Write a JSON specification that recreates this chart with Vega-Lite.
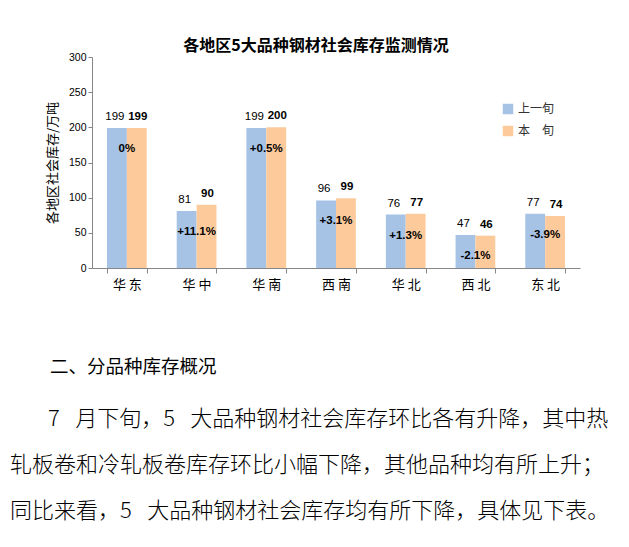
{
  "$schema": "https://vega.github.io/schema/vega-lite/v6.json",
  "padding": {"left": 10, "top": 38, "right": 5, "bottom": 0},
  "background": "white",
  "config": {"view": {"stroke": null}, "font": "Noto Sans CJK SC"},
  "bounds": "flush",
  "spacing": 151,
  "vconcat": [
    {
      "title": {"text": "各地区5大品种钢材社会库存监测情况", "fontSize": 16, "fontWeight": "bold", "color": "#000", "offset": -2, "dx": -20},
      "width": 488,
      "height": 211,
      "data": {"values": [
        {"region": "华东", "series": "上一旬", "value": 199, "change": "0%"},
        {"region": "华东", "series": "本　旬", "value": 199, "change": "0%"},
        {"region": "华中", "series": "上一旬", "value": 81, "change": "+11.1%"},
        {"region": "华中", "series": "本　旬", "value": 90, "change": "+11.1%"},
        {"region": "华南", "series": "上一旬", "value": 199, "change": "+0.5%"},
        {"region": "华南", "series": "本　旬", "value": 200, "change": "+0.5%"},
        {"region": "西南", "series": "上一旬", "value": 96, "change": "+3.1%"},
        {"region": "西南", "series": "本　旬", "value": 99, "change": "+3.1%"},
        {"region": "华北", "series": "上一旬", "value": 76, "change": "+1.3%"},
        {"region": "华北", "series": "本　旬", "value": 77, "change": "+1.3%"},
        {"region": "西北", "series": "上一旬", "value": 47, "change": "-2.1%"},
        {"region": "西北", "series": "本　旬", "value": 46, "change": "-2.1%"},
        {"region": "东北", "series": "上一旬", "value": 77, "change": "-3.9%"},
        {"region": "东北", "series": "本　旬", "value": 74, "change": "-3.9%"}
      ]},
      "encoding": {
        "x": {
          "field": "region", "type": "nominal",
          "sort": ["华东", "华中", "华南", "西南", "华北", "西北", "东北"],
          "scale": {"paddingInner": 0.43, "paddingOuter": 0.215},
          "axis": {"title": null, "labelAngle": 0, "tickBand": "extent", "domainColor": "#868686", "tickColor": "#868686", "tickSize": 5, "labelFontSize": 13, "labelPadding": 5, "labelColor": "#000", "labelExpr": "join(split(datum.label, ''), ' ')"}
        },
        "y": {
          "field": "value", "type": "quantitative",
          "scale": {"domain": [0, 300]},
          "axis": {"title": "各地区社会库存/万吨", "titleFontSize": 13, "titleFontWeight": "normal", "titleColor": "#000", "titlePadding": 9, "values": [0, 50, 100, 150, 200, 250, 300], "grid": false, "domainColor": "#868686", "tickColor": "#868686", "tickSize": 4, "labelFontSize": 10.5, "labelFont": "Liberation Sans", "labelColor": "#000"}
        }
      },
      "layer": [
        {
          "mark": {"type": "bar"},
          "encoding": {
            "xOffset": {"field": "series", "sort": ["上一旬", "本　旬"], "scale": {"paddingInner": 0}},
            "color": {
              "field": "series", "type": "nominal",
              "scale": {"domain": ["上一旬", "本　旬"], "range": ["#A6C3E6", "#FDCB9B"]},
              "legend": {"title": null, "orient": "none", "legendX": 410, "legendY": 46, "symbolType": "square", "symbolSize": 110, "symbolStrokeWidth": 0, "labelFontSize": 12, "rowPadding": 10, "labelColor": "#333"}
            }
          }
        },
        {
          "transform": [{"filter": "datum.series === '上一旬'"}],
          "mark": {"type": "text", "dy": -11, "dx": -2, "fontSize": 11.5, "font": "Liberation Sans", "color": "#000"},
          "encoding": {
            "xOffset": {"field": "series", "sort": ["上一旬", "本　旬"], "scale": {"paddingInner": 0}},
            "text": {"field": "value"}
          }
        },
        {
          "transform": [{"filter": "datum.series === '本　旬'"}],
          "mark": {"type": "text", "dy": -11, "dx": 1, "fontSize": 11.5, "fontWeight": "bold", "font": "Liberation Sans", "color": "#000"},
          "encoding": {
            "xOffset": {"field": "series", "sort": ["上一旬", "本　旬"], "scale": {"paddingInner": 0}},
            "text": {"field": "value"}
          }
        },
        {
          "transform": [{"filter": "datum.series === '上一旬'"}],
          "mark": {"type": "text", "dy": 21, "fontSize": 11.5, "fontWeight": "bold", "font": "Liberation Sans", "color": "#000"},
          "encoding": {
            "text": {"field": "change"}
          }
        }
      ]
    },
    {
      "title": {"text": "二、分品种库存概况", "anchor": "start", "frame": "group", "dx": -42, "fontSize": 18.5, "fontWeight": "normal", "color": "#000", "offset": 32},
      "width": 488,
      "height": 92,
      "data": {"values": [
        {"line": 1, "text": "7\u2002\u2009月下旬，5\u2002\u2009大品种钢材社会库存环比各有升降，其中热"},
        {"line": 2, "text": "轧板卷和冷轧板卷库存环比小幅下降，其他品种均有所上升；"},
        {"line": 3, "text": "同比来看，5\u2002\u2009大品种钢材社会库存均有所下降，具体见下表。"}
      ]},
      "encoding": {
        "x": {"datum": 0, "type": "quantitative", "scale": {"domain": [0, 1]}, "axis": null},
        "y": {"field": "line", "type": "ordinal", "scale": {"type": "point", "padding": 0}, "axis": null},
        "text": {"field": "text"}
      },
      "layer": [
        {
          "transform": [{"filter": "datum.line === 1"}],
          "mark": {"type": "text", "align": "left", "baseline": "middle", "fontSize": 22, "fontWeight": 300, "color": "#000", "dx": -44}
        },
        {
          "transform": [{"filter": "datum.line !== 1"}],
          "mark": {"type": "text", "align": "left", "baseline": "middle", "fontSize": 22, "fontWeight": 300, "color": "#000", "dx": -82}
        }
      ]
    }
  ]
}
